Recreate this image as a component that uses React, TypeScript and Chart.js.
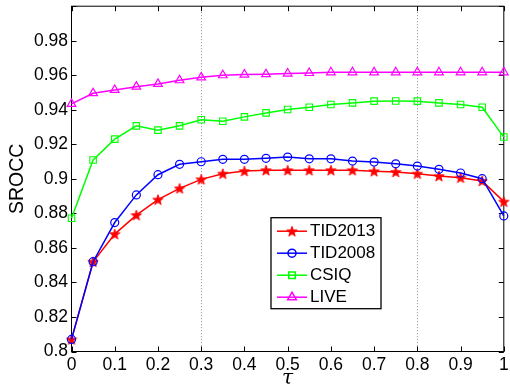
import React, { useEffect, useRef } from "react";
import { Chart, registerables } from "chart.js";
import { drawPoint } from "chart.js/helpers";

Chart.register(...registerables);

const TAU = [0, 0.05, 0.1, 0.15, 0.2, 0.25, 0.3, 0.35, 0.4, 0.45, 0.5, 0.55, 0.6, 0.65, 0.7, 0.75, 0.8, 0.85, 0.9, 0.95, 1];
const TID2013 = [0.807, 0.852, 0.868, 0.879, 0.888, 0.8945, 0.8997, 0.903, 0.9045, 0.905, 0.905, 0.905, 0.905, 0.905, 0.9044, 0.904, 0.903, 0.9016, 0.9007, 0.8988, 0.8868];
const TID2008 = [0.807, 0.852, 0.8747, 0.8907, 0.9024, 0.9084, 0.9099, 0.9113, 0.9113, 0.9119, 0.9126, 0.9116, 0.9116, 0.9103, 0.9097, 0.9087, 0.9074, 0.9055, 0.9034, 0.9001, 0.8785];
const CSIQ = [0.8772, 0.9109, 0.923, 0.9307, 0.9282, 0.9307, 0.9342, 0.9334, 0.9359, 0.9382, 0.9402, 0.9415, 0.9431, 0.944, 0.945, 0.9451, 0.945, 0.944, 0.9431, 0.9415, 0.9242];
const LIVE = [0.9434, 0.9496, 0.9515, 0.9534, 0.955, 0.9571, 0.9588, 0.96, 0.9604, 0.9606, 0.961, 0.9613, 0.9617, 0.9617, 0.9617, 0.9617, 0.9617, 0.9617, 0.9617, 0.9617, 0.9617];
const SERIES_NAMES = ["TID2013", "TID2008", "CSIQ", "LIVE"];
const DOTTED_X = [0.3, 0.8];
const X_LABEL = "τ";
const Y_LABEL = "SROCC";

const FONT = "'Liberation Sans', Arial, Helvetica, sans-serif";

function makeStar(color: string, size: number) {
  const c = document.createElement("canvas");
  c.width = size;
  c.height = size;
  const ctx = c.getContext("2d")!;
  const cx = size / 2, cy = size / 2 + 0.5;
  const ro = size / 2 - 0.5, ri = ro * 0.42;
  ctx.beginPath();
  for (let i = 0; i < 10; i++) {
    const r = i % 2 === 0 ? ro : ri;
    const a = -Math.PI / 2 + (i * Math.PI) / 5;
    const px = cx + r * Math.cos(a), py = cy + r * Math.sin(a);
    if (i === 0) ctx.moveTo(px, py); else ctx.lineTo(px, py);
  }
  ctx.closePath();
  ctx.fillStyle = color;
  ctx.fill();
  ctx.strokeStyle = color;
  ctx.lineWidth = 0.8;
  ctx.stroke();
  return c;
}

const fmt = (v: number) => Number(Number(v).toFixed(2)).toString();

export default function App() {
  const ref = useRef<HTMLCanvasElement | null>(null);

  useEffect(() => {
    const canvas = ref.current!;
    const star = makeStar("#ff0000", 12);
    const styles = [
      { color: "#ff0000", pointStyle: star as any, radius: 5, bw: 1 },
      { color: "#0000ff", pointStyle: "circle", radius: 4, bw: 1.2 },
      { color: "#00ff00", pointStyle: "rect", radius: 4.6, bw: 1.1 },
      { color: "#ff00ff", pointStyle: "triangle", radius: 5, bw: 1.2 },
    ];
    const seriesValues = [TID2013, TID2008, CSIQ, LIVE];

    const datasets = seriesValues.map((vals, i) => ({
      label: SERIES_NAMES[i],
      data: TAU.map((t, j) => ({ x: t, y: vals[j] })),
      borderColor: styles[i].color,
      backgroundColor: "rgba(0,0,0,0)",
      borderWidth: 1.5,
      pointStyle: styles[i].pointStyle,
      pointRadius: styles[i].radius,
      pointBorderColor: styles[i].color,
      pointBackgroundColor: "rgba(0,0,0,0)",
      pointBorderWidth: styles[i].bw,
      tension: 0,
      clip: false as any,
      order: 4 - i,
    }));

    const framePlugin = {
      id: "frame",
      beforeDatasetsDraw(chart: any) {
        const { ctx, chartArea: a, scales } = chart;
        const xs = scales.x, ys = scales.y;
        ctx.save();
        ctx.strokeStyle = "#8c8c8c";
        ctx.lineWidth = 1;
        ctx.setLineDash([1, 2]);
        for (const v of DOTTED_X) {
          const px = Math.round(xs.getPixelForValue(v)) + 0.5;
          ctx.beginPath();
          ctx.moveTo(px, a.top);
          ctx.lineTo(px, a.bottom);
          ctx.stroke();
        }
        ctx.setLineDash([]);
        ctx.strokeStyle = "#000";
        ctx.lineWidth = 1;
        ctx.strokeRect(a.left, a.top, a.right - a.left, a.bottom - a.top);
        const tl = 5;
        ctx.beginPath();
        for (const t of xs.ticks) {
          const px = Math.round(xs.getPixelForValue(t.value)) + 0.5;
          ctx.moveTo(px, a.bottom);
          ctx.lineTo(px, a.bottom - tl);
          ctx.moveTo(px, a.top);
          ctx.lineTo(px, a.top + tl);
        }
        for (const t of ys.ticks) {
          const py = Math.round(ys.getPixelForValue(t.value)) + 0.5;
          ctx.moveTo(a.left, py);
          ctx.lineTo(a.left + tl, py);
          ctx.moveTo(a.right, py);
          ctx.lineTo(a.right - tl, py);
        }
        ctx.stroke();
        ctx.restore();
      },
      afterDatasetsDraw(chart: any) {
        const { ctx, chartArea: a } = chart;
        const bx = a.left + 199.5, by = a.top + 211.5, bw = 110, bh = 91;
        ctx.save();
        ctx.fillStyle = "#fff";
        ctx.fillRect(bx, by, bw, bh);
        ctx.strokeStyle = "#000";
        ctx.lineWidth = 1.3;
        ctx.strokeRect(bx, by, bw, bh);
        ctx.font = `17px ${FONT}`;
        ctx.textBaseline = "middle";
        ctx.textAlign = "left";
        chart.data.datasets.forEach((ds: any, i: number) => {
          const ry = by + 13.5 + i * 22;
          const lx0 = bx + 6, lx1 = bx + 36;
          ctx.strokeStyle = ds.borderColor;
          ctx.lineWidth = 1.5;
          ctx.beginPath();
          ctx.moveTo(lx0, ry);
          ctx.lineTo(lx1, ry);
          ctx.stroke();
          const st = styles[i];
          ctx.strokeStyle = st.color;
          ctx.fillStyle = "rgba(0,0,0,0)";
          drawPoint(ctx, { pointStyle: st.pointStyle, rotation: 0, radius: st.radius, borderWidth: st.bw } as any, (lx0 + lx1) / 2, ry);
          ctx.fillStyle = "#000";
          ctx.fillText(ds.label, bx + 39, ry + 0.5);
        });
        ctx.restore();
      },
    };

    const chart = new Chart(canvas, {
      type: "line",
      data: { datasets: datasets as any },
      options: {
        responsive: false,
        animation: false,
        events: [],
        layout: { padding: { top: 5.5, right: 1.5, left: 0, bottom: 0 } },
        plugins: {
          legend: { display: false },
          tooltip: { enabled: false },
        },
        scales: {
          x: {
            type: "linear",
            min: 0,
            max: 1,
            grid: { display: false, drawTicks: false },
            border: { display: false },
            ticks: {
              stepSize: 0.1,
              autoSkip: false,
              maxRotation: 0,
              padding: 3,
              color: "#000",
              font: { family: FONT, size: 17.5 },
              callback: (v: any) => fmt(v),
            },
            title: {
              display: true,
              text: X_LABEL,
              color: "#000",
              font: { family: "'DejaVu Serif', 'Liberation Serif', serif", size: 20, style: "italic", lineHeight: 1 },
              padding: { top: 0, bottom: -2 },
            },
            afterFit: (s: any) => {
              s.height = 35.5;
              s.paddingLeft = 0;
              s.paddingRight = 0;
            },
          },
          y: {
            type: "linear",
            min: 0.8,
            max: 1,
            grid: { display: false, drawTicks: false },
            border: { display: false },
            ticks: {
              stepSize: 0.02,
              padding: 3.5,
              color: "#000",
              font: { family: FONT, size: 17.5 },
              callback: (v: any) => (Math.abs(v - 1) < 1e-9 ? "" : fmt(v)),
            },
            title: {
              display: true,
              text: Y_LABEL,
              color: "#000",
              font: { family: FONT, size: 19.5, lineHeight: 1 },
              padding: { top: 8, bottom: 0 },
            },
            afterFit: (s: any) => {
              s.width = 71.5;
              s.paddingTop = 0;
              s.paddingBottom = 0;
            },
          },
        },
      },
      plugins: [framePlugin],
    });
    return () => chart.destroy();
  }, []);

  return (
    <div style={{ position: "fixed", left: 0, top: 0, width: 510, height: 387, overflow: "hidden", background: "#fff" }}>
      <canvas ref={ref} width={510} height={387} style={{ display: "block", width: 510, height: 387 }} />
    </div>
  );
}
